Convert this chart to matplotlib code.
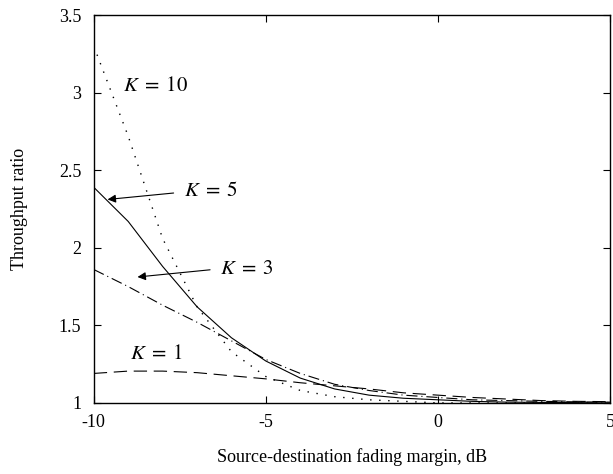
import matplotlib

matplotlib.use("Agg")
import matplotlib.pyplot as plt

plt.rcParams["font.family"] = ["Liberation Serif", "DejaVu Serif"]
plt.rcParams["mathtext.fontset"] = "stix"

# source-destination fading margin, dB
margin = [-10, -9, -8, -7, -6, -5, -4, -3, -2, -1, 0, 1, 2, 3, 4, 5]
k1 = [1.19, 1.205, 1.205, 1.195, 1.175, 1.155, 1.13, 1.11, 1.09, 1.065,
      1.05, 1.035, 1.025, 1.015, 1.01, 1.008]
k3 = [1.86, 1.75, 1.63, 1.52, 1.40, 1.28, 1.19, 1.12, 1.08, 1.05,
      1.035, 1.02, 1.015, 1.01, 1.007, 1.005]
k5 = [2.39, 2.17, 1.88, 1.62, 1.42, 1.27, 1.16, 1.09, 1.05, 1.03,
      1.02, 1.01, 1.005, 1.003, 1.002, 1.0]
k10 = [3.3, 2.72, 2.06, 1.62, 1.33, 1.17, 1.08, 1.04, 1.02, 1.01,
       1.0, 1.0, 1.0, 1.0, 1.0, 1.0]
xticks = [-10, -5, 0, 5]
xticklabels = ["-10", "-5", "0", "5"]
yticks = [1, 1.5, 2, 2.5, 3, 3.5]
yticklabels = ["1", "1.5", "2", "2.5", "3", "3.5"]

fig = plt.figure(figsize=(6.13, 4.74), dpi=100)
ax = fig.add_axes([0.153, 0.15, 0.842, 0.818])
lw = 0.8
ax.plot(margin, k1, color="k", lw=lw, ls=(0, (12, 6)))
ax.plot(margin, k3, color="k", lw=lw, ls=(0, (10, 3.5, 1, 3.5)))
ax.plot(margin, k5, color="k", lw=lw, ls="-")
ax.plot(margin, k10, color="k", lw=1.0, ls=(0, (1, 5.5)))

ax.set_xlim(-10, 5)
ax.set_ylim(1, 3.5)
ax.set_xticks(xticks)
ax.set_xticklabels(xticklabels)
ax.set_yticks(yticks)
ax.set_yticklabels(yticklabels)
ax.tick_params(direction="in", top=True, right=True, labelsize=13, length=5)
ax.tick_params(axis="y", pad=9)
ax.tick_params(axis="x", pad=8)
for s in ax.spines.values():
    s.set_linewidth(1.0)
ax.set_xlabel("Source-destination fading margin, dB", fontsize=13, labelpad=12)
ax.set_ylabel("Throughput ratio", fontsize=13, labelpad=22)

fs = 15
ax.text(-9.16, 3.04, r"$K\;=\;10$", fontsize=fs, va="center")
ax.text(-7.38, 2.36, r"$K\;=\;5$", fontsize=fs, va="center")
ax.annotate("", xy=(-9.68, 2.31), xytext=(-7.6, 2.355),
            arrowprops=dict(arrowstyle="-|>", color="k", lw=0.8,
                            mutation_scale=12))
ax.text(-6.34, 1.86, r"$K\;=\;3$", fontsize=fs, va="center")
ax.annotate("", xy=(-8.81, 1.81), xytext=(-6.54, 1.86),
            arrowprops=dict(arrowstyle="-|>", color="k", lw=0.8,
                            mutation_scale=12))
ax.text(-8.95, 1.31, r"$K\;=\;1$", fontsize=fs, va="center")

fig.savefig("out.png", dpi=100)
